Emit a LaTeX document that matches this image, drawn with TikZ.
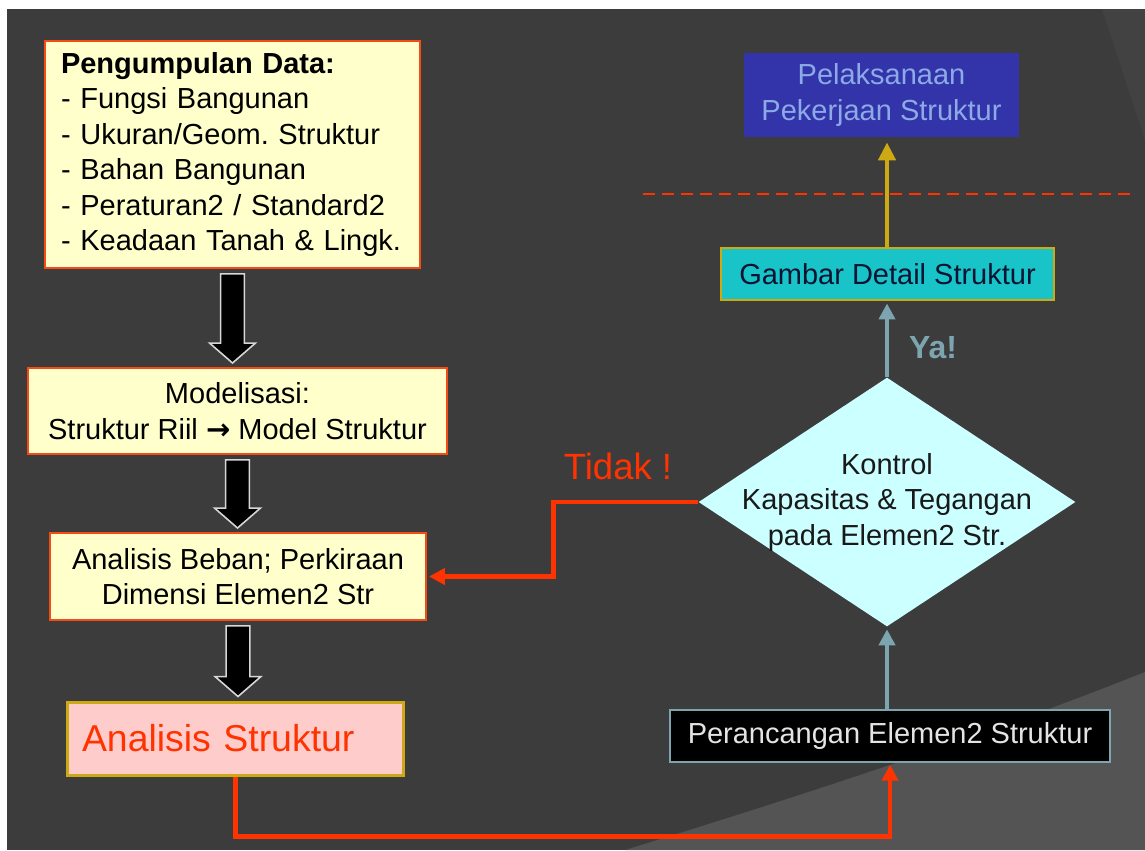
\documentclass[tikz,border=0pt]{standalone}
\usepackage{fontspec}
\setmainfont{Liberation Sans}
\newfontfamily\panahfont{DejaVu Sans}
\usepackage{xcolor}
\definecolor{fcbg}{RGB}{60,60,60}
\definecolor{fcbglight}{RGB}{84,84,84}
\definecolor{fcbgband}{RGB}{66,66,66}
\definecolor{fcyellow}{RGB}{255,255,204}
\definecolor{fcorange}{RGB}{245,75,20}
\definecolor{fcpink}{RGB}{255,204,204}
\definecolor{fcgold}{RGB}{205,170,20}
\definecolor{fcred}{RGB}{255,51,0}
\definecolor{fcpurple}{RGB}{51,51,170}
\definecolor{fclightblue}{RGB}{140,170,230}
\definecolor{fccyan}{RGB}{25,196,200}
\definecolor{fcnavy}{RGB}{10,20,50}
\definecolor{fcice}{RGB}{204,255,255}
\definecolor{fcsteel}{RGB}{125,165,175}
\definecolor{fcwhite}{RGB}{228,228,228}
\definecolor{fcoutline}{RGB}{215,215,215}
\usepackage{tikz}
\usetikzlibrary{arrows.meta, shapes.geometric, calc}
\frenchspacing

% black block arrow between two boxes (offsets in pt)
\newcommand{\blokpanah}[2]{%
  \draw[blok] let \p1=(#1.south), \p2=(#2.north) in
    (\x1-6.8pt,\y1-2.8pt) -- (\x1+6.8pt,\y1-2.8pt) -- (\x1+6.8pt,\y2+13.6pt)
    -- (\x1+13pt,\y2+13.6pt) -- (\x1,\y2+2.3pt) -- (\x1-13pt,\y2+13.6pt)
    -- (\x1-6.8pt,\y2+13.6pt) -- cycle;}

\begin{document}
\begin{tikzpicture}[x=0.02cm, y=-0.02cm,
    teks/.style={font=\fontsize{16.5}{20.2}\selectfont},
    kotak/.style={teks, draw=fcorange, line width=1.1pt, fill=fcyellow, text=black,
      inner sep=0pt, align=center},
    blok/.style={fill=black, draw=fcoutline, line width=0.9pt, line join=miter},
    panahemas/.style={draw=fcgold, line width=2.8pt,
      -{Triangle[width=0.34cm, length=0.36cm]}, shorten >=0.1cm},
    panahbaja/.style={draw=fcsteel, line width=2.8pt,
      -{Triangle[width=0.32cm, length=0.32cm]}, shorten >=0.05cm},
    panahmerah/.style={draw=fcred, line width=2.8pt,
      -{Triangle[width=0.32cm, length=0.32cm]}, shorten >=0.04cm}]

  \useasboundingbox (0,0) rectangle (1145,850);

  % Background
  \fill[white] (0,0) rectangle (1145,850);
  \fill[fcbg] (7,9) rectangle (1145,850);
  \fill[fcbglight] (625,850) .. controls (820,790) and (1000,730) .. (1145,672)
    -- (1145,850) -- cycle;
  \fill[fcbgband] (1102,9) -- (1145,9) -- (1145,140) -- cycle;

  % Left column
  \node[kotak, align=left, minimum width=7.5cm, minimum height=4.54cm,
        text width=6.86cm, inner xsep=0.32cm] (data) at (232.5,154.5)
    {\textbf{Pengumpulan Data:}\\- Fungsi Bangunan\\- Ukuran/Geom. Struktur\\
     - Bahan Bangunan\\- Peraturan2 / Standard2\\- Keadaan Tanah \& Lingk.};
  \node[kotak, minimum width=8.38cm, minimum height=1.72cm] (model) at (237.5,411)
    {Modelisasi:\\Struktur Riil {\panahfont\bfseries →} Model Struktur};
  \node[kotak, minimum width=7.52cm, minimum height=1.74cm] (beban) at (238,576.5)
    {Analisis Beban; Perkiraan\\Dimensi Elemen2 Str};
  \node[draw=fcgold, line width=1.7pt, fill=fcpink, text=fcred, inner sep=0pt,
        font=\fontsize{21.3}{25}\selectfont, align=left, text width=6.14cm,
        inner xsep=0.3cm, minimum width=6.74cm, minimum height=1.46cm]
    (struktur) at (235.5,738.5) {Analisis Struktur};

  % Block arrows
  \blokpanah{data}{model}
  \blokpanah{model}{beban}
  \blokpanah{beban}{struktur}

  % Right column
  \node[teks, fill=fcpurple, text=fclightblue, align=center, inner sep=0pt,
        minimum width=5.5cm, minimum height=1.68cm] (pelaksanaan) at (881.5,95)
    {Pelaksanaan\\Pekerjaan Struktur};
  \node[teks, fill=fccyan, draw=fcgold, line width=1.1pt, text=fcnavy, inner sep=0pt,
        minimum width=6.66cm, minimum height=1.04cm] (gambar) at (887.5,274)
    {Gambar Detail Struktur};
  \node[diamond, fill=fcice, inner sep=0pt, minimum width=7.54cm,
        minimum height=4.98cm] (kontrol) at (887,502) {};
  \node[teks, text=black!90, align=center] (kontroltks) at (kontrol.center)
    {Kontrol\\Kapasitas \& Tegangan\\pada Elemen2 Str.};
  \node[teks, fill=black, draw=fcsteel, line width=0.8pt, text=fcwhite, inner sep=0pt,
        minimum width=8.8cm, minimum height=1.04cm] (perancangan) at (890,736)
    {Perancangan Elemen2 Struktur};

  % Separator line
  \draw[fcred, line width=0.9pt, dash pattern=on 0.24cm off 0.14cm]
    (643,194) -- (1130,194);

  % Labels
  \node[font=\fontsize{20.8}{24}\selectfont, text=fcred] (tidak) at (618,466) {Tidak !};
  \node[font=\fontsize{18.2}{22}\selectfont\bfseries, text=fcsteel] (ya) at (933,348) {Ya!};

  % Connectors
  \draw[panahemas] (kontrol.north |- gambar.north) -- (kontrol.north |- pelaksanaan.south);
  \draw[panahbaja] (kontrol.north) -- (kontrol.north |- gambar.south);
  \draw[panahbaja] (kontrol.south |- perancangan.north) -- (kontrol.south);
  \draw[panahmerah] (kontrol.west) -- ++(-145,0) |- (beban.east);
  \draw[panahmerah] (struktur.south) -- ++(0,60) -| (perancangan.south);
\end{tikzpicture}
\end{document}
